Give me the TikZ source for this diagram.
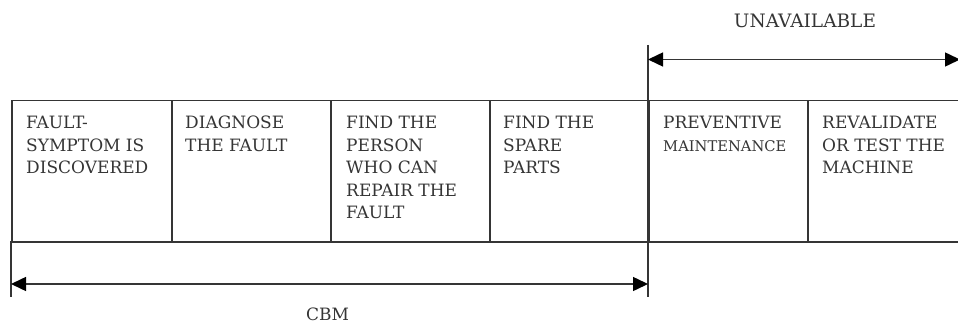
\documentclass[tikz,border=0pt]{standalone}
\usepackage{fontspec}
\newfontfamily\slab{DejaVu Serif}
\usetikzlibrary{arrows.meta}
\definecolor{ink}{HTML}{353535}
\tikzset{
  frame/.style={draw=ink, line width=1.5pt},
  cell/.style={frame, rectangle, minimum height=141pt, inner sep=0pt, anchor=north west},
  celltext/.style={anchor=north west, inner sep=0pt, align=left, text=ink,
    font=\slab\fontsize{17}{22.5}\selectfont},
  dim/.style={draw=ink, line width=1.5pt, {Triangle[length=15pt,width=14pt,color=black]}-{Triangle[length=15pt,width=14pt,color=black]}},
  lbl/.style={text=ink, inner sep=0pt}
}
\begin{document}
\begin{tikzpicture}[x=1pt,y=-1pt]
\useasboundingbox (0,0) rectangle (958,323);
% cells
\node[cell, minimum width=160pt] (c1) at (11,100) {};
\node[cell, minimum width=159pt] (c2) at (171,100) {};
\node[cell, minimum width=159pt] (c3) at (330,100) {};
\node[cell, minimum width=159pt] (c4) at (489,100) {};
\node[cell, minimum width=159pt] (c5) at (648,100) {};
\node[cell, minimum width=156pt] (c6) at (807,100) {};
% texts
\node[celltext] (t1) at (26,116) {FAULT-\\SYMPTOM IS\\DISCOVERED};
\node[celltext] (t2) at (185,116) {DIAGNOSE\\THE FAULT};
\node[celltext] (t3) at (346,116) {FIND THE\\PERSON\\WHO CAN\\REPAIR THE\\FAULT};
\node[celltext] (t4) at (503,116) {FIND THE\\SPARE\\PARTS};
\node[celltext] (t5) at (663,116) {PREVENTIVE\\{\fontsize{14.7}{22.5}\selectfont MAINTENANCE}};
\node[celltext] (t6) at (822,116) {REVALIDATE\\OR TEST THE\\MACHINE};
% extension lines
\coordinate (ltop) at (11,241);
\coordinate (lbot) at (11,297);
\coordinate (mtop) at (648,45);
\coordinate (mbot) at (648,297);
\draw[frame] (ltop) -- (lbot);
\draw[frame] (mtop) -- (mbot);
% dimension arrows
\coordinate (cbmL) at (11,284);
\coordinate (cbmR) at (648,284);
\coordinate (unL) at (648,59.5);
\coordinate (rend) at (960,59.5);
\draw[dim] (cbmL) -- (cbmR);
\draw[dim] (unL) -- (rend);
% labels
\node[lbl, font=\slab\fontsize{17}{20}\selectfont] (cbm) at (327.5,314) {CBM};
\node[lbl, font=\slab\fontsize{18.5}{20}\selectfont] (un) at (805,21) {UNAVAILABLE};
\end{tikzpicture}
\end{document}
